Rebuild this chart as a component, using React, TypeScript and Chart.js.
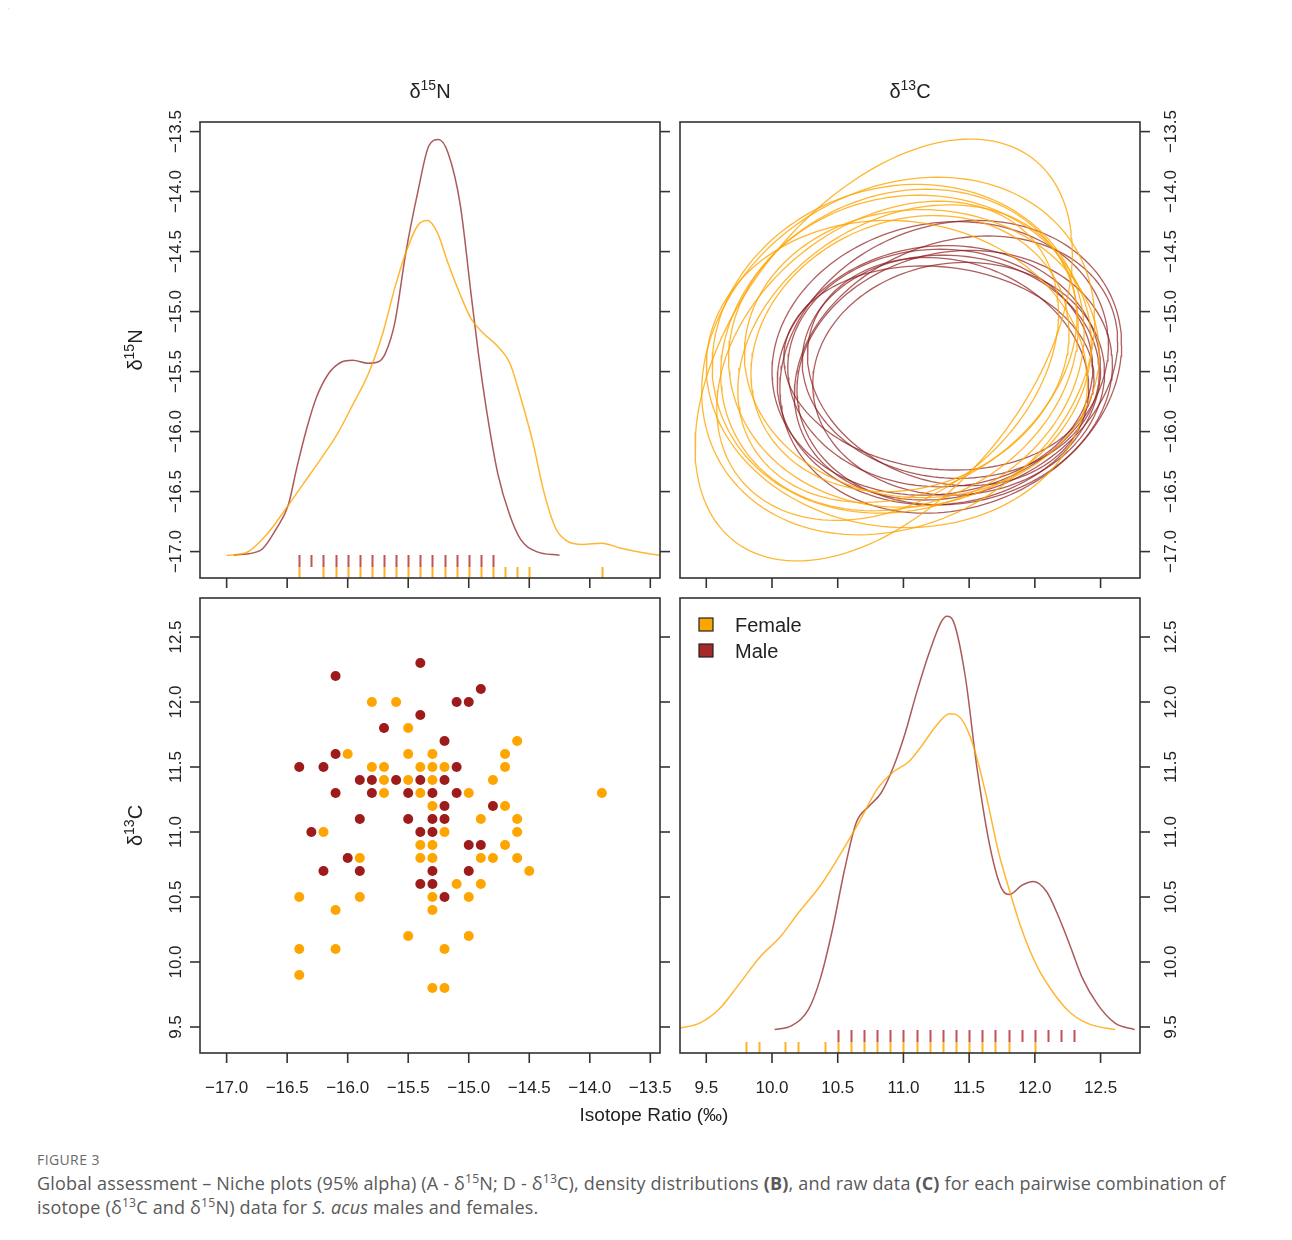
import React, { useEffect, useRef } from 'react';
import { Chart, registerables } from 'chart.js';

Chart.register(...registerables);

// ---------------- DATA ----------------
// Raw data (panel C): δ15N (x) and δ13C (y) per individual
const FEMALE_N15 = [
  -16.4, -16.4, -16.4, -16.2, -16.1, -16.1, -16.0, -15.9, -15.9, -15.8, -15.8, -15.7, -15.7, -15.7,
  -15.6, -15.5, -15.5, -15.5, -15.5, -15.4, -15.4, -15.4, -15.4, -15.3, -15.3, -15.3, -15.3, -15.3,
  -15.3, -15.3, -15.3, -15.3, -15.2, -15.2, -15.2, -15.2, -15.1, -15.0, -15.0, -15.0, -14.9, -14.9,
  -14.9, -14.8, -14.8, -14.7, -14.7, -14.7, -14.7, -14.6, -14.6, -14.6, -14.6, -14.5, -13.9,
];
const FEMALE_C13 = [
  10.5, 10.1, 9.9, 11.0, 10.4, 10.1, 11.6, 10.8, 10.5, 12.0, 11.5, 11.5, 11.4, 11.3,
  12.0, 11.8, 11.6, 11.4, 10.2, 11.5, 11.3, 10.9, 10.8, 11.6, 11.5, 11.4, 11.2, 10.9,
  10.8, 10.5, 10.4, 9.8, 11.5, 11.0, 10.1, 9.8, 10.6, 11.3, 10.5, 10.2, 11.1, 10.8,
  10.6, 11.4, 10.8, 11.6, 11.5, 11.2, 10.9, 11.7, 11.1, 11.0, 10.8, 10.7, 11.3,
];
const MALE_N15 = [
  -16.4, -16.3, -16.2, -16.2, -16.1, -16.1, -16.1, -16.0, -15.9, -15.9, -15.9, -15.8, -15.8, -15.7,
  -15.6, -15.5, -15.5, -15.4, -15.4, -15.4, -15.4, -15.4, -15.3, -15.3, -15.3, -15.3, -15.3, -15.2,
  -15.2, -15.2, -15.2, -15.2, -15.1, -15.1, -15.1, -15.0, -15.0, -15.0, -14.9, -14.9, -14.8,
];
const MALE_C13 = [
  11.5, 11.0, 11.5, 10.7, 12.2, 11.6, 11.3, 10.8, 11.4, 11.1, 10.7, 11.4, 11.3, 11.8,
  11.4, 11.3, 11.1, 12.3, 11.9, 11.4, 11.0, 10.6, 11.3, 11.1, 11.0, 10.7, 10.6, 11.7,
  11.4, 11.2, 11.1, 10.5, 12.0, 11.5, 11.3, 12.0, 10.9, 10.7, 12.1, 10.9, 11.2,
];

// Density curves (scaled to the shared axis ranges), [x, y]
const FEMALE_N15_DENSITY: [number, number][] = [
  [-17.0, -17.03], [-16.84, -17.01], [-16.68, -16.87], [-16.53, -16.67], [-16.37, -16.44],
  [-16.21, -16.21], [-16.08, -16.01], [-15.96, -15.78], [-15.83, -15.52], [-15.71, -15.18],
  [-15.61, -14.8], [-15.52, -14.51], [-15.42, -14.28], [-15.34, -14.24], [-15.26, -14.34],
  [-15.17, -14.6], [-15.07, -14.86], [-14.98, -15.06], [-14.88, -15.18], [-14.76, -15.29],
  [-14.66, -15.43], [-14.57, -15.72], [-14.47, -16.09], [-14.38, -16.5], [-14.28, -16.81],
  [-14.19, -16.91], [-14.06, -16.94], [-13.9, -16.93], [-13.75, -16.97], [-13.56, -17.01],
  [-13.42, -17.03],
];
const MALE_N15_DENSITY: [number, number][] = [
  [-16.94, -17.03], [-16.72, -16.99], [-16.59, -16.81], [-16.49, -16.61], [-16.42, -16.3],
  [-16.34, -15.98], [-16.26, -15.72], [-16.16, -15.52], [-16.05, -15.42], [-15.96, -15.405],
  [-15.83, -15.43], [-15.75, -15.42], [-15.69, -15.35], [-15.61, -15.09], [-15.52, -14.51],
  [-15.42, -14.0], [-15.33, -13.62], [-15.25, -13.566], [-15.17, -13.68], [-15.07, -14.11],
  [-14.98, -14.86], [-14.92, -15.35], [-14.85, -15.84], [-14.76, -16.35], [-14.66, -16.7],
  [-14.57, -16.9], [-14.44, -17.0], [-14.25, -17.03],
];
const FEMALE_C13_DENSITY: [number, number][] = [
  [9.29, 9.49], [9.45, 9.53], [9.6, 9.64], [9.75, 9.83], [9.91, 10.04], [10.06, 10.19],
  [10.21, 10.39], [10.37, 10.59], [10.52, 10.83], [10.67, 11.09], [10.8, 11.33], [10.92, 11.46],
  [11.04, 11.54], [11.13, 11.65], [11.26, 11.83], [11.35, 11.91], [11.44, 11.87], [11.53, 11.67],
  [11.63, 11.28], [11.72, 10.86], [11.81, 10.54], [11.9, 10.25], [12.02, 9.96], [12.15, 9.75],
  [12.27, 9.61], [12.42, 9.52], [12.61, 9.48],
];
const MALE_C13_DENSITY: [number, number][] = [
  [10.02, 9.48], [10.15, 9.51], [10.28, 9.64], [10.37, 9.88], [10.46, 10.25], [10.55, 10.7],
  [10.64, 11.07], [10.74, 11.2], [10.83, 11.3], [10.92, 11.49], [11.01, 11.75], [11.1, 12.07],
  [11.2, 12.39], [11.29, 12.62], [11.33, 12.66], [11.38, 12.62], [11.47, 12.2], [11.56, 11.49],
  [11.66, 10.88], [11.75, 10.56], [11.81, 10.52], [11.9, 10.59], [11.99, 10.62], [12.09, 10.54],
  [12.18, 10.35], [12.27, 10.12], [12.36, 9.88], [12.48, 9.67], [12.61, 9.53], [12.76, 9.48],
];

// Niche ellipses (panel top-right): [centre δ13C, centre δ15N, half-width δ13C, half-height δ15N, correlation]
const FEMALE_ELLIPSES: [number, number, number, number, number][] = [
  [10.85, -15.32, 1.435, 1.758, 0.46],
  [10.96, -15.37, 1.495, 1.49, 0.2],
  [10.96, -15.31, 1.415, 1.37, 0.1],
  [10.97, -15.32, 1.36, 1.34, 0.15],
  [11.05, -15.33, 1.38, 1.3, 0.05],
  [11.03, -15.35, 1.29, 1.24, 0.25],
  [11.14, -15.35, 1.35, 1.2, 0.0],
  [11.05, -15.35, 1.21, 1.15, 0.15],
  [10.88, -15.41, 1.3, 1.33, 0.3],
  [10.95, -15.52, 1.45, 1.28, -0.05],
];
const MALE_ELLIPSES: [number, number, number, number, number][] = [
  [11.28, -15.39, 1.28, 1.14, 0.1],
  [11.36, -15.46, 1.3, 1.22, 0.15],
  [11.28, -15.47, 1.16, 0.99, 0.0],
  [11.39, -15.55, 1.2, 1.06, 0.1],
  [11.36, -15.46, 1.13, 0.93, -0.05],
  [11.42, -15.56, 1.11, 0.97, 0.05],
  [11.27, -15.47, 1.18, 0.85, -0.1],
  [11.4, -15.47, 1.23, 1.1, 0.2],
  [11.27, -15.53, 1.23, 1.08, 0.05],
  [11.34, -15.5, 1.07, 0.95, -0.15],
];

// Axes
const N15_RANGE = [-17.22, -13.42];
const C13_RANGE = [9.3, 12.8];
const N15_TICKS = [-17.0, -16.5, -16.0, -15.5, -15.0, -14.5, -14.0, -13.5];
const N15_TICK_LABELS = ['\u221217.0', '\u221216.5', '\u221216.0', '\u221215.5', '\u221215.0', '\u221214.5', '\u221214.0', '\u221213.5'];
const C13_TICKS = [9.5, 10.0, 10.5, 11.0, 11.5, 12.0, 12.5];
const C13_TICK_LABELS = ['9.5', '10.0', '10.5', '11.0', '11.5', '12.0', '12.5'];
const LEGEND_LABELS = ['Female', 'Male'];

// ---------------- STYLE ----------------
const W = 1276;
const H = 1130;
const OFF = 8; // canvas origin in page coordinates
const FONT = '"Liberation Sans", Arial, Helvetica, sans-serif';
const AXIS_COLOR = '#333333';
const TEXT_COLOR = '#222222';
const F_POINT = '#ffa500';
const M_POINT = '#9e1b1b';
const F_LINE = 'rgba(255,165,0,0.8)';
const M_LINE = 'rgba(139,26,26,0.72)';
const F_RUG = 'rgba(255,165,0,0.85)';
const M_RUG = 'rgba(175,40,45,0.8)';
const F_ELL = 'rgba(255,165,0,0.8)';
const M_ELL = 'rgba(139,26,26,0.7)';

type Box = { L: number; R: number; T: number; B: number };
const BOX_A: Box = { L: 200, R: 660, T: 122, B: 578 };
const BOX_B: Box = { L: 680, R: 1140, T: 122, B: 578 };
const BOX_C: Box = { L: 200, R: 660, T: 598, B: 1053 };
const BOX_D: Box = { L: 680, R: 1140, T: 598, B: 1053 };

const pad = (b: Box) => ({ left: b.L - OFF, top: b.T - OFF, right: W - (b.R - OFF), bottom: H - (b.B - OFF) });
const uniq = (a: number[]) => Array.from(new Set(a));
const pairs = (xs: number[], ys: number[]) => xs.map((x, i) => ({ x, y: ys[i] }));
const curve = (d: [number, number][]) => d.map(([x, y]) => ({ x, y }));

function ellipsePoints(e: [number, number, number, number, number]) {
  const [cx, cy, hx, hy, rho] = e;
  const s = Math.sqrt(1 - rho * rho);
  const pts: { x: number; y: number }[] = [];
  const n = 160;
  for (let i = 0; i <= n; i++) {
    const t = (i / n) * Math.PI * 2;
    pts.push({ x: cx + hx * Math.cos(t), y: cy + hy * (rho * Math.cos(t) + s * Math.sin(t)) });
  }
  return pts;
}

type Part = [string, boolean];
function drawRich(ctx: CanvasRenderingContext2D, parts: Part[], x: number, y: number, size: number, rot: number) {
  ctx.save();
  ctx.translate(x, y);
  if (rot) ctx.rotate(rot);
  ctx.textAlign = 'left';
  ctx.textBaseline = 'alphabetic';
  ctx.fillStyle = TEXT_COLOR;
  const widths = parts.map(([t, sup]) => {
    ctx.font = `${sup ? Math.round(size * 0.7) : size}px ${FONT}`;
    return ctx.measureText(t).width;
  });
  const total = widths.reduce((a, b) => a + b, 0);
  let cx = -total / 2;
  parts.forEach(([t, sup], i) => {
    ctx.font = `${sup ? Math.round(size * 0.7) : size}px ${FONT}`;
    ctx.fillText(t, cx, sup ? -size * 0.4 : 0);
    cx += widths[i];
  });
  ctx.restore();
}

type AxisSpec = { ticks: number[]; labels?: string[] };
type PanelCfg = {
  left?: AxisSpec;
  right?: AxisSpec;
  bottom?: AxisSpec;
  rug?: { values: number[]; color: string; lo: number; hi: number }[];
  topTitle?: Part[];
  leftTitle?: Part[];
  xTitle?: string;
  legend?: { label: string; color: string }[];
};

function makePanelPlugin(cfg: PanelCfg) {
  return {
    id: 'panelDecor',
    afterDraw(chart: any) {
      const ctx: CanvasRenderingContext2D = chart.ctx;
      const a = chart.chartArea;
      const xs = chart.scales.x;
      const ys = chart.scales.y;
      ctx.save();
      // rug
      (cfg.rug || []).forEach((r) => {
        ctx.strokeStyle = r.color;
        ctx.lineWidth = 2;
        r.values.forEach((v) => {
          const px = Math.round(xs.getPixelForValue(v)) + 0.5;
          ctx.beginPath();
          ctx.moveTo(px, a.bottom - r.lo);
          ctx.lineTo(px, a.bottom - r.hi);
          ctx.stroke();
        });
      });
      // box
      ctx.strokeStyle = AXIS_COLOR;
      ctx.lineWidth = 1.6;
      ctx.strokeRect(a.left, a.top, a.right - a.left, a.bottom - a.top);
      const TL = 10;
      ctx.fillStyle = TEXT_COLOR;
      ctx.font = `17px ${FONT}`;
      if (cfg.left) {
        cfg.left.ticks.forEach((v, i) => {
          const py = ys.getPixelForValue(v);
          ctx.beginPath();
          ctx.moveTo(a.left, py);
          ctx.lineTo(a.left - TL, py);
          ctx.stroke();
          if (cfg.left!.labels) {
            ctx.save();
            ctx.translate(a.left - 19.5, py);
            ctx.rotate(-Math.PI / 2);
            ctx.textAlign = 'center';
            ctx.textBaseline = 'alphabetic';
            ctx.fillText(cfg.left!.labels[i], 0, 0);
            ctx.restore();
          }
        });
      }
      if (cfg.right) {
        cfg.right.ticks.forEach((v, i) => {
          const py = ys.getPixelForValue(v);
          ctx.beginPath();
          ctx.moveTo(a.right, py);
          ctx.lineTo(a.right + TL, py);
          ctx.stroke();
          if (cfg.right!.labels) {
            ctx.save();
            ctx.translate(a.right + 36, py);
            ctx.rotate(-Math.PI / 2);
            ctx.textAlign = 'center';
            ctx.textBaseline = 'alphabetic';
            ctx.fillText(cfg.right!.labels[i], 0, 0);
            ctx.restore();
          }
        });
      }
      if (cfg.bottom) {
        cfg.bottom.ticks.forEach((v, i) => {
          const px = xs.getPixelForValue(v);
          ctx.beginPath();
          ctx.moveTo(px, a.bottom);
          ctx.lineTo(px, a.bottom + TL);
          ctx.stroke();
          if (cfg.bottom!.labels) {
            ctx.textAlign = 'center';
            ctx.textBaseline = 'alphabetic';
            ctx.fillText(cfg.bottom!.labels[i], px, a.bottom + 39.5);
          }
        });
      }
      if (cfg.topTitle) drawRich(ctx, cfg.topTitle, (a.left + a.right) / 2, a.top - 24, 20, 0);
      if (cfg.leftTitle) drawRich(ctx, cfg.leftTitle, a.left - 58, (a.top + a.bottom) / 2, 20, -Math.PI / 2);
      if (cfg.xTitle) {
        ctx.font = `19px ${FONT}`;
        ctx.textAlign = 'center';
        ctx.fillStyle = TEXT_COLOR;
        ctx.fillText(cfg.xTitle, a.right - 6, a.bottom + 68);
      }
      if (cfg.legend) {
        cfg.legend.forEach((it, i) => {
          const y0 = a.top + 20 + i * 26;
          ctx.fillStyle = it.color;
          ctx.fillRect(a.left + 19, y0, 14, 13);
          ctx.strokeStyle = '#222';
          ctx.lineWidth = 1.2;
          ctx.strokeRect(a.left + 19, y0, 14, 13);
          ctx.fillStyle = TEXT_COLOR;
          ctx.font = `20px ${FONT}`;
          ctx.textAlign = 'left';
          ctx.textBaseline = 'alphabetic';
          ctx.fillText(it.label, a.left + 55, y0 + 13.5);
        });
      }
      ctx.restore();
    },
  };
}

function baseOptions(box: Box, xr: number[], yr: number[]) {
  return {
    responsive: false,
    animation: false as const,
    devicePixelRatio: 1,
    events: [] as any[],
    layout: { padding: pad(box) },
    scales: {
      x: { type: 'linear' as const, min: xr[0], max: xr[1], display: false },
      y: { type: 'linear' as const, min: yr[0], max: yr[1], display: false },
    },
    plugins: { legend: { display: false }, tooltip: { enabled: false }, title: { display: false } },
  };
}

const lineDs = (d: { x: number; y: number }[], color: string, mono: boolean) => ({
  data: d,
  borderColor: color,
  borderWidth: 1.5,
  pointRadius: 0,
  fill: false,
  showLine: true,
  tension: mono ? 0.4 : 0,
  cubicInterpolationMode: mono ? ('monotone' as const) : ('default' as const),
});

const PanelCanvas: React.FC<{ make: () => any }> = ({ make }) => {
  const ref = useRef<HTMLCanvasElement | null>(null);
  useEffect(() => {
    if (!ref.current) return;
    const chart = new Chart(ref.current, make());
    return () => chart.destroy();
  }, []);
  return (
    <canvas
      ref={ref}
      width={W}
      height={H}
      style={{ position: 'absolute', left: 0, top: 0, width: W, height: H, display: 'block' }}
    />
  );
};

const N15_TITLE: Part[] = [['\u03b4', false], ['15', true], ['N', false]];
const C13_TITLE: Part[] = [['\u03b4', false], ['13', true], ['C', false]];

const makeA = () => ({
  type: 'line',
  data: {
    datasets: [
      lineDs(curve(FEMALE_N15_DENSITY), F_LINE, true),
      lineDs(curve(MALE_N15_DENSITY), M_LINE, true),
    ],
  },
  options: baseOptions(BOX_A, N15_RANGE, N15_RANGE),
  plugins: [
    makePanelPlugin({
      left: { ticks: N15_TICKS, labels: N15_TICK_LABELS },
      right: { ticks: N15_TICKS },
      bottom: { ticks: N15_TICKS },
      rug: [
        { values: uniq(FEMALE_N15), color: F_RUG, lo: 0, hi: 11 },
        { values: uniq(MALE_N15), color: M_RUG, lo: 11, hi: 23 },
      ],
      topTitle: N15_TITLE,
      leftTitle: N15_TITLE,
    }),
  ],
});

const makeB = () => ({
  type: 'scatter',
  data: {
    datasets: [
      ...FEMALE_ELLIPSES.map((e) => ({ ...lineDs(ellipsePoints(e), F_ELL, false), borderWidth: 1.3 })),
      ...MALE_ELLIPSES.map((e) => ({ ...lineDs(ellipsePoints(e), M_ELL, false), borderWidth: 1.3 })),
    ],
  },
  options: baseOptions(BOX_B, C13_RANGE, N15_RANGE),
  plugins: [
    makePanelPlugin({
      right: { ticks: N15_TICKS, labels: N15_TICK_LABELS },
      bottom: { ticks: C13_TICKS },
      topTitle: C13_TITLE,
    }),
  ],
});

const makeC = () => ({
  type: 'scatter',
  data: {
    datasets: [
      { data: pairs(FEMALE_N15, FEMALE_C13), backgroundColor: F_POINT, borderWidth: 0, pointRadius: 5 },
      { data: pairs(MALE_N15, MALE_C13), backgroundColor: M_POINT, borderWidth: 0, pointRadius: 5 },
    ],
  },
  options: baseOptions(BOX_C, N15_RANGE, C13_RANGE),
  plugins: [
    makePanelPlugin({
      left: { ticks: C13_TICKS, labels: C13_TICK_LABELS },
      right: { ticks: C13_TICKS },
      bottom: { ticks: N15_TICKS, labels: N15_TICK_LABELS },
      leftTitle: C13_TITLE,
      xTitle: 'Isotope Ratio (\u2030)',
    }),
  ],
});

const makeD = () => ({
  type: 'line',
  data: {
    datasets: [
      lineDs(curve(FEMALE_C13_DENSITY), F_LINE, true),
      lineDs(curve(MALE_C13_DENSITY), M_LINE, true),
    ],
  },
  options: baseOptions(BOX_D, C13_RANGE, C13_RANGE),
  plugins: [
    makePanelPlugin({
      right: { ticks: C13_TICKS, labels: C13_TICK_LABELS },
      bottom: { ticks: C13_TICKS, labels: C13_TICK_LABELS },
      rug: [
        { values: uniq(FEMALE_C13), color: F_RUG, lo: 0, hi: 11 },
        { values: uniq(MALE_C13), color: M_RUG, lo: 11, hi: 23 },
      ],
      legend: [
        { label: LEGEND_LABELS[0], color: F_POINT },
        { label: LEGEND_LABELS[1], color: '#a52a2a' },
      ],
    }),
  ],
});

const supStyle: React.CSSProperties = { fontSize: '0.68em', lineHeight: 0, verticalAlign: '0.55em' };

export default function App() {
  return (
    <div style={{ position: 'relative', width: W, height: 1232 }}>
      <div
        style={{
          position: 'absolute',
          left: -1,
          top: -1,
          width: 1281,
          height: 1262,
          border: '1px solid #d6d6d6',
          borderRadius: 3,
        }}
      />
      <PanelCanvas make={makeA} />
      <PanelCanvas make={makeB} />
      <PanelCanvas make={makeC} />
      <PanelCanvas make={makeD} />
      <div
        style={{
          position: 'absolute',
          left: 29,
          top: 1142,
          fontFamily: '"Open Sans", sans-serif',
          fontSize: 14,
          letterSpacing: '0.4px',
          lineHeight: '20px',
          color: '#6a6a6a',
          whiteSpace: 'nowrap',
        }}
      >
        FIGURE 3
      </div>
      <div
        style={{
          position: 'absolute',
          left: 29,
          top: 1163,
          fontFamily: '"Open Sans", sans-serif',
          fontSize: 18,
          letterSpacing: '0.18px',
          lineHeight: '24px',
          color: '#595959',
          whiteSpace: 'nowrap',
        }}
      >
        Global assessment – Niche plots (95% alpha) (A - δ<sup style={supStyle}>15</sup>N; D - δ<sup style={supStyle}>13</sup>C),
        density distributions <b>(B)</b>, and raw data <b>(C)</b> for each pairwise combination of
        <br />
        isotope (δ<sup style={supStyle}>13</sup>C and δ<sup style={supStyle}>15</sup>N) data for <i>S. acus</i> males and females.
      </div>
    </div>
  );
}
